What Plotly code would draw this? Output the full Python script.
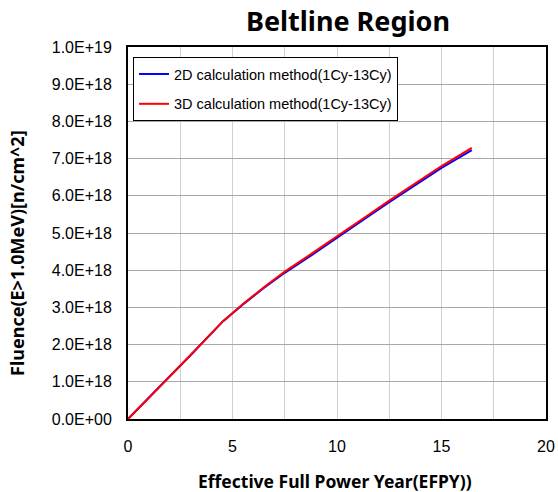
import plotly.graph_objects as go

efpy = [0, 1.0, 2.0, 3.0, 4.55, 5.5, 6.5, 7.5, 8.75, 10.0, 11.25, 12.5, 13.75, 15.0, 16.45]
fluence_2d = [0, 0.57e18, 1.15e18, 1.72e18, 2.63e18, 3.08e18, 3.52e18, 3.93e18, 4.39e18,
              4.86e18, 5.35e18, 5.83e18, 6.29e18, 6.75e18, 7.23e18]
fluence_3d = [0, 0.57e18, 1.15e18, 1.72e18, 2.63e18, 3.09e18, 3.54e18, 3.96e18, 4.43e18,
              4.90e18, 5.39e18, 5.87e18, 6.34e18, 6.80e18, 7.29e18]

y_tickvals = [i * 1e18 for i in range(11)]
y_ticktext = ["0.0E+00", "1.0E+18", "2.0E+18", "3.0E+18", "4.0E+18", "5.0E+18",
              "6.0E+18", "7.0E+18", "8.0E+18", "9.0E+18", "1.0E+19"]
x_tickvals = [0, 5, 10, 15, 20]

fig = go.Figure()
fig.add_trace(go.Scatter(x=efpy, y=fluence_2d, mode="lines", name="2D calculation method(1Cy-13Cy)",
                         line=dict(color="#0000ff", width=2), legendgroup="a"))
fig.add_trace(go.Scatter(x=efpy, y=fluence_3d, mode="lines", name="3D calculation method(1Cy-13Cy)",
                         line=dict(color="#ff0000", width=2), legendgroup="b"))

fig.update_layout(
    width=558, height=492,
    margin=dict(l=128, r=12, t=47, b=73),
    paper_bgcolor="white", plot_bgcolor="white",
    title=dict(text="<b>Beltline Region</b>", x=348 / 558, xanchor="center",
               y=1 - 22 / 492, yanchor="middle",
               font=dict(family="Noto Sans", size=27, color="black")),
    font=dict(family="Liberation Sans, Arial", size=16, color="black"),
    showlegend=True,
    legend=dict(x=0.012, y=0.973, xanchor="left", yanchor="top",
                bgcolor="white", bordercolor="black", borderwidth=1,
                font=dict(family="Liberation Sans, Arial", size=14.5, color="black"),
                traceorder="grouped", tracegroupgap=8),
    xaxis=dict(range=[0, 20], tickvals=x_tickvals, showline=True, linecolor="black", linewidth=2,
               mirror=True, showgrid=True, gridcolor="#d0d0d0", gridwidth=1, zeroline=False,
               ticks="outside", ticklen=12, tickcolor="rgba(0,0,0,0)", automargin=False,
               minor=dict(dtick=2.5, tick0=0, showgrid=True, gridcolor="#d0d0d0")),
    yaxis=dict(range=[0, 1e19], tickvals=y_tickvals, ticktext=y_ticktext, showline=True,
               linecolor="black", linewidth=2, mirror=True, showgrid=True, gridcolor="#a8a8a8",
               gridwidth=1, zeroline=False, ticks="outside", ticklen=11,
               tickcolor="rgba(0,0,0,0)", automargin=False),
    annotations=[
        dict(text="<b>Effective Full Power Year(EFPY))</b>", xref="paper", yref="paper",
             x=(335 - 128) / 418, y=(419 - 481) / 372, xanchor="center", yanchor="middle",
             showarrow=False, font=dict(family="Noto Sans", size=17.5, color="black")),
        dict(text="<b>Fluence(E>1.0MeV)[n/cm^2]</b>", xref="paper", yref="paper",
             x=(17 - 128) / 418, y=(419 - 253) / 372, xanchor="center", yanchor="middle",
             textangle=-90, showarrow=False,
             font=dict(family="Noto Sans", size=18, color="black")),
    ],
)

fig.write_html("out.html")
